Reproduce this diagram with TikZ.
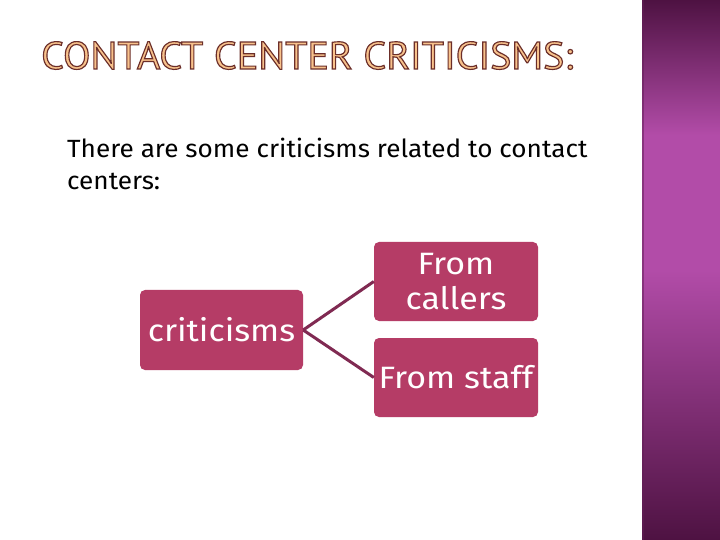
\documentclass[tikz,border=0pt]{standalone}
\usepackage{fontspec}
\setmainfont{Fira Sans}
\newfontfamily\bodyfont[FakeStretch=1.05]{Fira Sans}
\newfontfamily\boxfont[FakeStretch=1.1]{Fira Sans}
\font\titleraw="PT Sans:embolden=3;extend=1.04" at 38.5bp
\definecolor{boxfill}{RGB}{181,60,102}
\definecolor{linecol}{RGB}{128,42,82}
\definecolor{titlefill}{RGB}{248,194,140}
\definecolor{banddark}{RGB}{78,18,66}
\definecolor{bandmid}{RGB}{178,76,168}
\begin{document}
\begin{tikzpicture}[x=1bp,y=-1bp,
  itembox/.style={fill=boxfill,rounded corners=5bp,text=white,align=center,inner sep=0pt,
    font=\boxfont\fontsize{31}{35}\selectfont},
  conn/.style={draw=linecol,line width=3bp}]
\useasboundingbox[fill=white] (0,0) rectangle (720,540);
% right band
\shade[top color=banddark,bottom color=bandmid,middle color=bandmid] (642,0) rectangle (720,270);
\shade[top color=bandmid,bottom color=banddark] (642,270) rectangle (720,540);
\fill[banddark!80!bandmid,opacity=0.5] (642,0) rectangle (644,540);
% title
\node[anchor=base west,inner sep=0pt] (title) at (41,69)
  {\titleraw\color{titlefill}\special{pdf:code 0.42 0.18 0.16 RG}CONTACT CENTER CRITICISMS:};
% body text
\node[anchor=base west,inner sep=0pt,align=left,font=\bodyfont\fontsize{25}{33}\selectfont] (body) at (67,190)
  {There are some criticisms related to contact\\centers:};
% boxes
\node[itembox,minimum width=163bp,minimum height=80bp] (crit) at (221.5,330) {criticisms};
\node[itembox,minimum width=164bp,minimum height=79bp] (callers) at (456,281.5) {From\\callers};
\node[itembox,minimum width=164bp,minimum height=79bp] (staff) at (456,377.5) {From staff};
% connectors
\draw[conn] (crit.east) -- (callers.west);
\draw[conn] (crit.east) -- (staff.west);
\end{tikzpicture}
\end{document}
